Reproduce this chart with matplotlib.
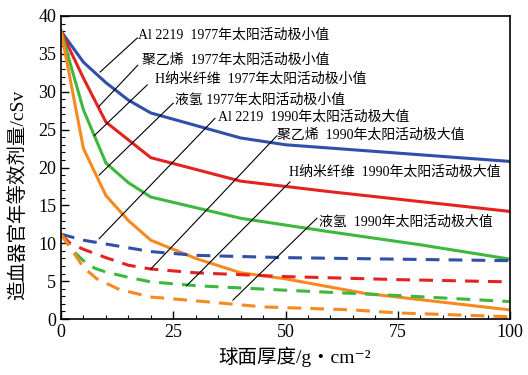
import numpy as np
import matplotlib
matplotlib.use("Agg")
import matplotlib.pyplot as plt
from matplotlib.ticker import MultipleLocator

# solid: 1977 solar minimum, dashed: 1990 solar maximum
x_al_min = [0, 5, 10, 15, 20, 40, 50, 75, 100]
y_al_min = [38, 33.9, 31.2, 28.9, 27.2, 23.9, 23.0, 21.9, 20.8]
x_pe_min = [0, 5, 10, 20, 40, 60, 80, 100]
y_pe_min = [38, 31.8, 26.0, 21.3, 18.2, 16.8, 15.5, 14.2]
x_hn_min = [0, 5, 10, 15, 20, 40, 60, 80, 100]
y_hn_min = [38, 27.6, 20.6, 18.0, 16.1, 13.3, 11.5, 9.8, 7.9]
x_lh_min = [0, 5, 10, 15, 20, 30, 40, 50, 67.5, 100]
y_lh_min = [38, 22.5, 16.3, 13.0, 10.4, 8.0, 6.1, 5.3, 3.4, 1.2]

x_al_max = [0, 5, 10, 20, 30, 50, 75, 100]
y_al_max = [11.2, 10.4, 9.9, 8.9, 8.4, 8.1, 7.9, 7.7]
x_pe_max = [0, 2, 5, 10, 15, 20, 30, 50, 75, 100]
y_pe_max = [11.2, 10.0, 9.2, 8.1, 7.1, 6.6, 6.1, 5.6, 5.2, 4.9]
x_hn_max = [0, 2.5, 5, 7.5, 10, 15, 20, 30, 50, 75, 100]
y_hn_max = [11.2, 9.1, 7.7, 6.7, 6.2, 5.5, 4.9, 4.4, 3.8, 3.1, 2.3]
x_lh_max = [0, 2, 5, 8, 13, 20, 30, 45, 65, 75, 100]
y_lh_max = [11.2, 9.5, 6.8, 5.3, 3.9, 2.9, 2.4, 1.6, 1.2, 0.8, 0.3]

labels = ["Al 2219  1977年太阳活动极小值", "聚乙烯  1977年太阳活动极小值",
          "H纳米纤维  1977年太阳活动极小值", "液氢 1977年太阳活动极小值",
          "Al 2219  1990年太阳活动极大值", "聚乙烯  1990年太阳活动极大值",
          "H纳米纤维  1990年太阳活动极大值", "液氢  1990年太阳活动极大值"]
# text anchor (left, middle) and leader line end points
label_pos = [(17.1, 37.5), (18.0, 34.2), (20.9, 31.6), (25.4, 28.9),
             (35.0, 26.7), (48.1, 24.3), (50.8, 19.4), (57.5, 12.8)]
leader_from = [(17.0, 37.1), (17.1, 33.5), (19.2, 30.9), (25.0, 28.5),
               (34.3, 26.5), (48.1, 24.2), (51.0, 18.1), (57.0, 13.3)]
leader_to = [(8.7, 32.6), (8.5, 28.1), (7.4, 24.2), (8.5, 19.0),
             (8.5, 10.6), (20.0, 6.6), (28.0, 4.4), (38.3, 2.5)]

blue = "#2f4fa8"
red = "#e3231f"
green = "#3db83d"
orange = "#f7891f"

serif_cjk = ["Liberation Serif", "Noto Sans CJK SC", "DejaVu Serif"]
plt.rcParams["font.family"] = serif_cjk

fig = plt.figure(figsize=(5.28, 3.75), dpi=100)
ax = fig.add_axes([61/528, 1-319/375, 449/528, 303/375])

lw = 2.2
for xs, ys, c in [(x_al_min, y_al_min, blue), (x_pe_min, y_pe_min, red),
                  (x_hn_min, y_hn_min, green), (x_lh_min, y_lh_min, orange)]:
    ax.plot(xs, ys, color=c, lw=lw, solid_joinstyle="miter")
for xs, ys, c in [(x_al_max, y_al_max, blue), (x_pe_max, y_pe_max, red),
                  (x_hn_max, y_hn_max, green), (x_lh_max, y_lh_max, orange)]:
    ax.plot(xs, ys, color=c, lw=lw, dashes=(4.5, 3))

for txt, (tx, ty), (x0, y0), (x1, y1) in zip(labels, label_pos, leader_from, leader_to):
    ax.plot([x0, x1], [y0, y1], color="black", lw=0.8)
    ax.text(tx, ty, txt, fontsize=10, ha="left", va="center", family=serif_cjk)

ax.set_xlim(0, 100)
ax.set_ylim(0, 40)
ax.xaxis.set_major_locator(MultipleLocator(25))
ax.xaxis.set_minor_locator(MultipleLocator(5))
ax.yaxis.set_major_locator(MultipleLocator(5))
ax.yaxis.set_minor_locator(MultipleLocator(1))
ax.tick_params(which="both", direction="in", labelsize=13, top=False, right=False)
ax.tick_params(which="major", length=6, width=1)
ax.tick_params(which="minor", length=3, width=0.8)
for s in ax.spines.values():
    s.set_linewidth(1.2)

ax.set_xlabel("球面厚度/g・cm⁻²", fontsize=14)
ax.set_ylabel("造血器官年等效剂量/cSv", fontsize=14)
ax.xaxis.set_label_coords(0.52, -0.09)
ax.yaxis.set_label_coords(-0.075, 0.41)

fig.savefig("out.png", dpi=100)
